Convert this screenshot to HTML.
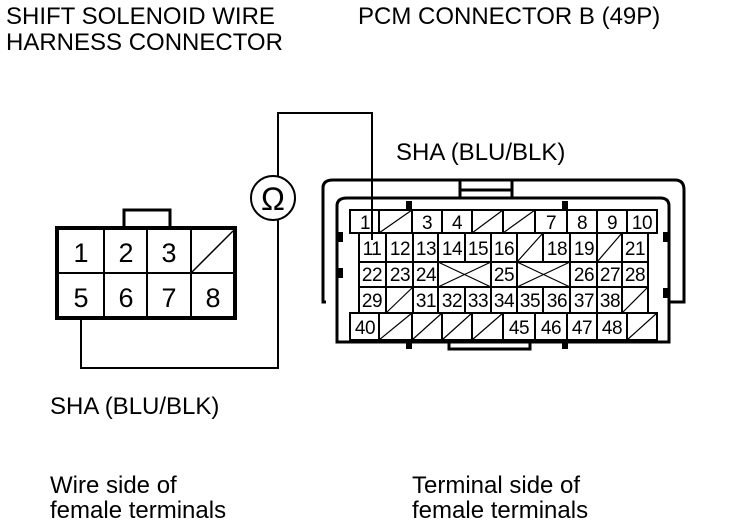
<!DOCTYPE html>
<html><head><meta charset="utf-8"><style>
html,body{margin:0;padding:0;background:#fff;}
svg{display:block;}
text{font-family:"Liberation Sans",Arial,sans-serif;fill:#000;}
</style></head><body>
<svg width="736" height="528" viewBox="0 0 736 528" xmlns="http://www.w3.org/2000/svg">
<g font-size="24">
<text x="6" y="24">SHIFT SOLENOID WIRE</text>
<text x="6" y="50">HARNESS CONNECTOR</text>
<text x="358" y="24">PCM CONNECTOR B (49P)</text>
<text x="396" y="160">SHA (BLU/BLK)</text>
<text x="50" y="414">SHA (BLU/BLK)</text>
<text x="50" y="493">Wire side of</text>
<text x="50" y="518">female terminals</text>
<text x="412" y="493">Terminal side of</text>
<text x="412" y="518">female terminals</text>
</g>
<!-- wire -->
<g fill="none" stroke="#000" stroke-width="2">
<polyline points="81,318 81,368 278,368 278,220"/>
<polyline points="278,176 278,113 372,113 372,238"/>
<circle cx="273" cy="198" r="22"/>
</g>
<text x="273" y="210" font-size="32" text-anchor="middle">Ω</text>
<!-- small connector -->
<g fill="none" stroke="#000">
<rect x="124" y="210" width="46" height="18" stroke-width="3"/>
<rect x="57" y="228" width="178" height="90" fill="#fff" stroke-width="4"/>
<line x1="57" y1="273" x2="235" y2="273" stroke-width="2"/>
<line x1="104" y1="228" x2="104" y2="318" stroke-width="2"/>
<line x1="147" y1="228" x2="147" y2="318" stroke-width="2"/>
<line x1="191" y1="228" x2="191" y2="318" stroke-width="2"/>
<line x1="191" y1="273" x2="233" y2="231" stroke-width="1.5"/>
</g>
<g font-size="27" text-anchor="middle">
<text x="81" y="262">1</text><text x="126" y="262">2</text><text x="169" y="262">3</text>
<text x="81" y="307">5</text><text x="126" y="307">6</text><text x="169" y="307">7</text><text x="213" y="307">8</text>
</g>
<!-- big connector shell -->
<g fill="none" stroke="#000" stroke-width="3">
<path d="M326,302 L323,302 L323,188 Q323,180 333,180 L460,180 L460,190 L512,190 L512,180 L675,180 Q684,180 684,190 L684,302 L669,302"/>
<polyline points="460,198 460,180 512,180 512,198"/>
<path d="M337,302 L337,206 Q337,198 347,198 L660,198 Q669,198 669,206 L669,342 L337,342 Z" fill="#fff"/>
<polyline points="449,342 449,349 530,349 530,342"/>
</g>
<g fill="#000">
<rect x="406" y="201" width="6" height="8"/><rect x="562" y="201" width="6" height="8"/>
<rect x="406" y="341" width="6" height="8"/><rect x="562" y="341" width="6" height="8"/>
<rect x="338" y="232" width="5" height="10"/><rect x="338" y="268" width="5" height="10"/>
<rect x="663" y="232" width="5" height="10"/><rect x="663" y="288" width="5" height="10"/>
</g>
<g fill="#fff" stroke="#000" stroke-width="2">
<rect x="350" y="210" width="307" height="23"/>
<rect x="359" y="233" width="289" height="80"/>
<rect x="350" y="313" width="307" height="27"/>
</g>
<g stroke="#000" stroke-width="2" fill="none">
<path d="M379,210V233M412,210V233M442,210V233M472,210V233M503,210V233M535,210V233M567,210V233M597,210V233M627,210V233"/>
<path d="M359,262H648M359,287H648"/>
<path d="M386,233V262M413,233V262M438,233V262M465,233V262M491,233V262M517,233V262M543,233V262M570,233V262M597,233V262M622,233V262"/>
<path d="M386,287V313M413,287V313M438,287V313M465,287V313M491,287V313M517,287V313M543,287V313M570,287V313M597,287V313M622,287V313"/>
<path d="M386,262V287M413,262V287M438,262V287M491,262V287M517,262V287M570,262V287M597,262V287M622,262V287"/>
<path d="M379,313V340M412,313V340M442,313V340M472,313V340M503,313V340M535,313V340M567,313V340M597,313V340M627,313V340"/>
</g>
<g stroke="#000" stroke-width="1.2" fill="none">
<path d="M379,233L412,210M472,233L503,210M503,233L535,210"/>
<path d="M517,262L543,233M597,262L622,233"/>
<path d="M438,262L491,287M438,287L491,262M517,262L570,287M517,287L570,262"/>
<path d="M386,313L413,287M622,313L648,287"/>
<path d="M379,340L412,313M412,340L442,313M442,340L472,313M472,340L503,313M627,340L657,313"/>
</g>
<g font-size="19" text-anchor="middle" letter-spacing="-0.5">
<text x="365" y="229">1</text><text x="427" y="229">3</text><text x="457" y="229">4</text><text x="551" y="229">7</text><text x="582" y="229">8</text><text x="612" y="229">9</text><text x="642" y="229">10</text>
<text x="372" y="255">11</text><text x="400" y="255">12</text><text x="426" y="255">13</text><text x="452" y="255">14</text><text x="478" y="255">15</text><text x="504" y="255">16</text><text x="557" y="255">18</text><text x="584" y="255">19</text><text x="635" y="255">21</text>
<text x="372" y="281">22</text><text x="400" y="281">23</text><text x="426" y="281">24</text><text x="504" y="281">25</text><text x="584" y="281">26</text><text x="610" y="281">27</text><text x="635" y="281">28</text>
<text x="372" y="307">29</text><text x="426" y="307">31</text><text x="452" y="307">32</text><text x="478" y="307">33</text><text x="504" y="307">34</text><text x="530" y="307">35</text><text x="557" y="307">36</text><text x="584" y="307">37</text><text x="610" y="307">38</text>
<text x="365" y="334">40</text><text x="519" y="334">45</text><text x="551" y="334">46</text><text x="582" y="334">47</text><text x="612" y="334">48</text>
</g>
<line x1="372" y1="113" x2="372" y2="240" stroke="#000" stroke-width="2"/>
</svg>
</body></html>
